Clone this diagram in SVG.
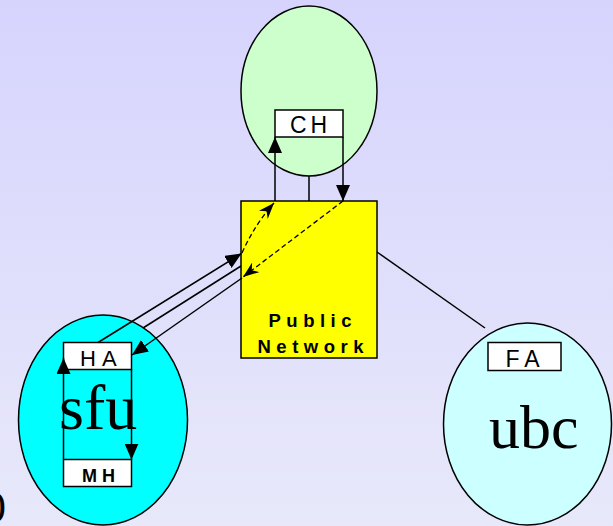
<svg xmlns="http://www.w3.org/2000/svg" width="613" height="526" viewBox="0 0 613 526">
  <style>
    .domain { stroke: #000; stroke-width: 1.5; }
    .box { fill: #fff; stroke: #000; stroke-width: 1.5; }
    .lbl { font-family: "Liberation Sans", Arial, sans-serif; fill: #000; }
    .big { font-family: "Liberation Serif", "Times New Roman", serif; fill: #000; }
    .wire { fill: none; stroke: #000; stroke-width: 1.5; }
    .dash { fill: none; stroke: #000; stroke-width: 1.3; stroke-dasharray: 5 3; }
  </style>
  <defs>
    <linearGradient id="bgGrad" x1="0" y1="0" x2="0" y2="1">
      <stop offset="0" stop-color="#D6D4FD"/>
      <stop offset="1" stop-color="#E8E8FA"/>
    </linearGradient>
    <marker id="arrow" viewBox="0 0 16 14" refX="16" refY="7" markerWidth="16" markerHeight="14" markerUnits="userSpaceOnUse" orient="auto">
      <path d="M0,0 L16,7 L0,14 z" fill="#000"/>
    </marker>
    <marker id="stealth" viewBox="0 0 16 12" refX="16" refY="6" markerWidth="16" markerHeight="12" markerUnits="userSpaceOnUse" orient="auto">
      <path d="M0,0 L16,6 L0,12 L5,6 z" fill="#000"/>
    </marker>
  </defs>

  <!-- background -->
  <rect x="0" y="0" width="613" height="526" fill="url(#bgGrad)"/>

  <!-- partly visible glyph at the lower left edge -->
  <text class="big" x="-16" y="522" font-size="44">0</text>

  <!-- correspondent host domain -->
  <g id="ch-domain">
    <ellipse class="domain" cx="309" cy="91" rx="68" ry="85" fill="#CCFFCC"/>
  </g>

  <!-- home domain: sfu -->
  <g id="sfu-domain">
    <ellipse class="domain" cx="103" cy="420" rx="84.5" ry="105" fill="#00FFFF"/>
    <text class="big" x="59" y="429" font-size="64">sfu</text>
  </g>

  <!-- foreign domain: ubc -->
  <g id="ubc-domain">
    <ellipse class="domain" cx="527.5" cy="424" rx="84" ry="101" fill="#CCFFFF"/>
    <text class="big" x="489" y="448" font-size="62">ubc</text>
  </g>

  <!-- public network -->
  <g id="public-network">
    <rect x="241" y="201" width="136" height="157" fill="#FFFF00" stroke="#000" stroke-width="1.5"/>
    <text class="lbl" x="268.5" y="327" font-size="18.5" font-weight="bold" letter-spacing="5.5">Public</text>
    <text class="lbl" x="257.5" y="353" font-size="18.5" font-weight="bold" letter-spacing="5.5">Network</text>
  </g>

  <g id="ch">
    <rect class="box" x="275" y="110" width="68" height="27"/>
    <text class="lbl" x="290" y="133" font-size="23" letter-spacing="4">CH</text>
  </g>

  <g id="ha">
    <rect class="box" x="63.5" y="342.5" width="68" height="27"/>
    <text class="lbl" x="80" y="366" font-size="22" letter-spacing="6">HA</text>
  </g>

  <g id="mh">
    <rect class="box" x="63.5" y="459.5" width="68" height="27"/>
    <text class="lbl" x="82" y="482" font-size="18" font-weight="bold" letter-spacing="5">MH</text>
  </g>

  <g id="fa">
    <rect class="box" x="488" y="342.5" width="73" height="28"/>
    <text class="lbl" x="505.5" y="366.5" font-size="23" letter-spacing="6">FA</text>
  </g>

  <!-- connectors -->
  <g id="connectors">
    <!-- CH domain to public network -->
    <line class="wire" x1="309" y1="176" x2="309" y2="201"/>
    <line class="wire" x1="275" y1="201" x2="275" y2="137" marker-end="url(#arrow)"/>
    <line class="wire" x1="343" y1="137" x2="343" y2="201" marker-end="url(#arrow)"/>
    <!-- public network to ubc -->
    <line class="wire" x1="377" y1="252" x2="485" y2="328"/>
    <!-- sfu to public network -->
    <line class="wire" x1="98" y1="342.5" x2="241.5" y2="253.5" marker-end="url(#arrow)"/>
    <line class="wire" x1="143" y1="328" x2="241" y2="266"/>
    <line class="wire" x1="242" y1="278" x2="132" y2="355" marker-end="url(#arrow)"/>
    <!-- tunnel paths across the network -->
    <path class="dash" d="M242,253 Q255,224 274,203" marker-end="url(#stealth)"/>
    <line class="dash" x1="343" y1="201" x2="243" y2="277" marker-end="url(#stealth)"/>
    <!-- HA / MH loop -->
    <line class="wire" x1="63.5" y1="459.5" x2="63.5" y2="358" marker-end="url(#arrow)"/>
    <line class="wire" x1="131.5" y1="369.5" x2="131.5" y2="459.5" marker-end="url(#arrow)"/>
  </g>
</svg>
